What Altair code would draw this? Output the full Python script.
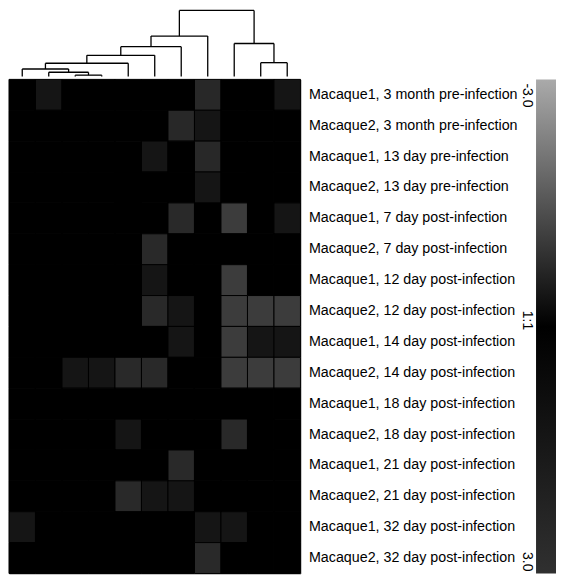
import altair as alt
import pandas as pd

# ---------------- data ----------------
row_labels = [
    "Macaque1, 3 month pre-infection",
    "Macaque2, 3 month pre-infection",
    "Macaque1, 13 day pre-infection",
    "Macaque2, 13 day pre-infection",
    "Macaque1, 7 day post-infection",
    "Macaque2, 7 day post-infection",
    "Macaque1, 12 day post-infection",
    "Macaque2, 12 day post-infection",
    "Macaque1, 14 day post-infection",
    "Macaque2, 14 day post-infection",
    "Macaque1, 18 day post-infection",
    "Macaque2, 18 day post-infection",
    "Macaque1, 21 day post-infection",
    "Macaque2, 21 day post-infection",
    "Macaque1, 32 day post-infection",
    "Macaque2, 32 day post-infection",
]
col_ids = list(range(11))

cell_values = [
    [0, -0.37, 0, 0, 0, 0, 0, -0.70, 0, 0, -0.37],
    [0, 0, 0, 0, 0, 0, -0.70, -0.37, 0, 0, 0],
    [0, 0, 0, 0, 0, -0.37, 0, -0.70, 0, 0, 0],
    [0, 0, 0, 0, 0, 0, 0, -0.37, 0, 0, 0],
    [0, 0, 0, 0, 0, 0, -0.72, 0, -1.05, 0, -0.37],
    [0, 0, 0, 0, 0, -0.72, 0, 0, 0, 0, 0],
    [0, 0, 0, 0, 0, -0.37, 0, 0, -1.05, 0, 0],
    [0, 0, 0, 0, 0, -0.72, -0.37, 0, -1.05, -1.05, -1.05],
    [0, 0, 0, 0, 0, 0, -0.37, 0, -1.05, -0.37, -0.37],
    [0, 0, -0.37, -0.37, -0.72, -0.72, 0, 0, -1.05, -1.05, -1.05],
    [0, 0, 0, 0, 0, 0, 0, 0, 0, 0, 0],
    [0, 0, 0, 0, -0.37, 0, 0, 0, -0.72, 0, 0],
    [0, 0, 0, 0, 0, 0, -0.72, 0, 0, 0, 0],
    [0, 0, 0, 0, -0.72, -0.37, -0.37, 0, 0, 0, 0],
    [-0.37, 0, 0, 0, 0, 0, 0, -0.37, -0.37, 0, 0],
    [0, 0, 0, 0, 0, 0, 0, -0.72, 0, 0, 0],
]

# column dendrogram (leaves 0..10, new nodes numbered 11.. in merge order)
merge_a = [2, 1, 0, 13, 9, 14, 16, 8, 17, 19]
merge_b = [3, 11, 12, 4, 10, 5, 6, 15, 7, 18]
merge_h = [1.3, 4.3, 7.7, 13.7, 14.3, 22, 31, 34.3, 42, 68.7]

# colour scale
color_domain = [-3, 0, 3]
color_range = ["#aaaaaa", "#000000", "#303030"]
bar_values = [-3, 0, 3]
bar_labels = ["-3.0", "1:1", "3.0"]

FONT = "Liberation Sans"

# ---------------- build tables ----------------
heat_df = pd.DataFrame(
    [
        {"row": r, "col": c, "value": cell_values[i][j]}
        for i, r in enumerate(row_labels)
        for j, c in enumerate(col_ids)
    ]
)

pos = {i: float(i) for i in col_ids}
hgt = {i: 0.0 for i in col_ids}
segs = []
for k, (a, b, h) in enumerate(zip(merge_a, merge_b, merge_h)):
    node = len(col_ids) + k
    segs.append({"x1": pos[a], "x2": pos[a], "y1": hgt[a], "y2": h})
    segs.append({"x1": pos[b], "x2": pos[b], "y1": hgt[b], "y2": h})
    segs.append({"x1": pos[a], "x2": pos[b], "y1": h, "y2": h})
    pos[node] = (pos[a] + pos[b]) / 2
    hgt[node] = h
seg_df = pd.DataFrame(segs)

W = 292
H_DEN = 67
H_HEAT = 495

# ---------------- dendrogram ----------------
dendro = (
    alt.Chart(seg_df)
    .mark_rule(color="black", strokeWidth=1.3)
    .encode(
        x=alt.X("x1:Q", scale=alt.Scale(domain=[-0.5, len(col_ids) - 0.5], nice=False, zero=False), axis=None),
        x2="x2:Q",
        y=alt.Y("y1:Q", scale=alt.Scale(domain=[0, 69.7], nice=False), axis=None),
        y2="y2:Q",
    )
    .properties(width=W, height=H_DEN)
)

# ---------------- heatmap ----------------
rect = (
    alt.Chart(heat_df)
    .mark_rect(stroke="black", strokeWidth=1)
    .encode(
        x=alt.X("col:O", scale=alt.Scale(paddingInner=0, paddingOuter=0), axis=None),
        y=alt.Y(
            "row:N",
            sort=row_labels,
            scale=alt.Scale(paddingInner=0, paddingOuter=0),
            axis=alt.Axis(
                orient="right", title=None, ticks=False, domain=False,
                labelPadding=8, labelFontSize=14.3, labelFont=FONT,
                labelColor="black", labelLimit=0,
            ),
        ),
        color=alt.Color(
            "value:Q",
            scale=alt.Scale(domain=color_domain, range=color_range, interpolate="rgb"),
            legend=None,
        ),
    )
)

# colour bar
cb_scale = alt.Scale(domain=[color_domain[0], color_domain[-1]], reverse=True, nice=False, zero=False)
span = color_domain[-1] - color_domain[0]
gradient = alt.Gradient(
    gradient="linear",
    stops=[alt.GradientStop(color=c, offset=(d - color_domain[0]) / span) for d, c in zip(color_domain, color_range)],
    x1=0, x2=0, y1=0, y2=1,
)
cb_df = pd.DataFrame({"lo": [color_domain[0]], "hi": [color_domain[-1]]})
cbar = (
    alt.Chart(cb_df)
    .mark_rect(fill=gradient)
    .encode(
        x=alt.value(528),
        x2=alt.value(548),
        y=alt.Y("lo:Q", scale=cb_scale, axis=None),
        y2="hi:Q",
    )
)

lbl_df = pd.DataFrame({"v": bar_values, "label": bar_labels})
aligns = ["left", "center", "right"]
dxs = [4, -6, -2]
texts = []
for v, al, dx in zip(bar_values, aligns, dxs):
    texts.append(
        alt.Chart(lbl_df)
        .transform_filter(alt.datum.v == v)
        .mark_text(angle=90, align=al, baseline="top", dx=dx, fontSize=14, font=FONT, color="black")
        .encode(
            x=alt.value(526),
            y=alt.Y("v:Q", scale=cb_scale, axis=None),
            text="label:N",
        )
    )

heat = (
    alt.layer(rect, cbar, *texts)
    .resolve_scale(y="independent")
    .properties(width=W, height=H_HEAT, view=alt.ViewBackground(stroke="#888888", strokeWidth=1))
)

chart = (
    alt.vconcat(dendro, heat, spacing=0)
    .properties(padding=0)
    .configure_view(stroke="transparent")
)

chart.save("out.html", embed_options={"renderer": "svg", "actions": False})
